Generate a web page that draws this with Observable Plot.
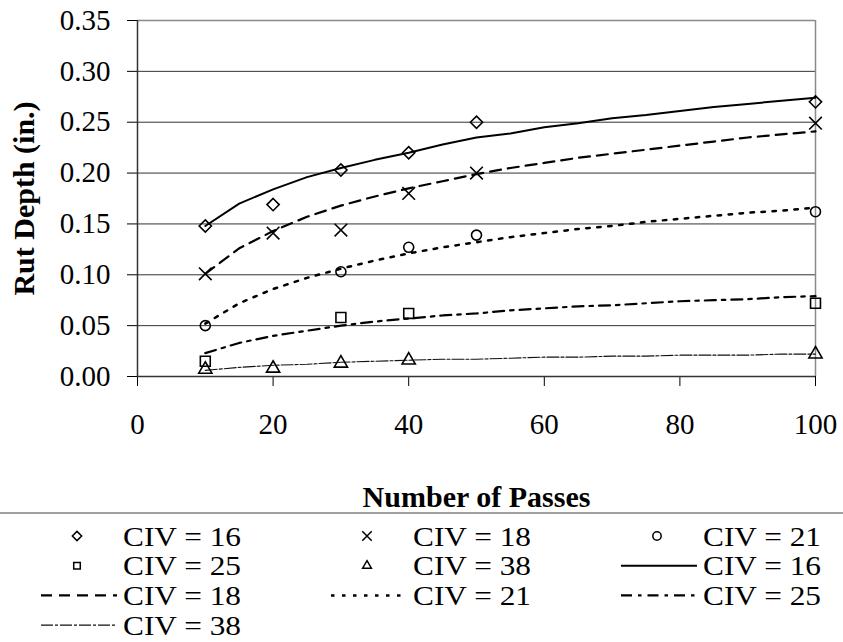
<!DOCTYPE html>
<html><head><meta charset="utf-8">
<script src="https://cdn.jsdelivr.net/npm/d3@7"></script>
<script src="https://cdn.jsdelivr.net/npm/@observablehq/plot@0.6"></script>
<style>
html,body{margin:0;padding:0;background:#fff;}
#chart svg{display:block;}
</style></head><body><div id="chart"></div>
<script>
// ---- data ----
const civLabels = ["CIV = 16", "CIV = 18", "CIV = 21", "CIV = 25", "CIV = 38"];

// measured points
const obsPasses = [10, 20, 30, 40, 50, 100];
const obs16 = [0.148, 0.169, 0.203, 0.220, 0.250, 0.270];
const obs18 = [0.101, 0.141, 0.144, 0.180, 0.200, 0.249];
const obs21 = [0.050, null, 0.103, 0.127, 0.139, 0.162];
const obs25 = [0.015, null, 0.058, 0.062, null, 0.072];
const obs38 = [0.007, 0.008, 0.013, 0.016, null, 0.022];

// trend lines
const fitPasses = [10, 15, 20, 25, 30, 35, 40, 45, 50, 55, 60, 65, 70, 75, 80, 85, 90, 95, 100];
const fit16 = [0.148, 0.170, 0.184, 0.196, 0.205, 0.213, 0.220, 0.228, 0.235, 0.239, 0.245, 0.249, 0.254, 0.257, 0.261, 0.265, 0.268, 0.271, 0.274];
const fit18 = [0.101, 0.126, 0.143, 0.157, 0.168, 0.177, 0.185, 0.192, 0.199, 0.205, 0.210, 0.215, 0.219, 0.223, 0.227, 0.231, 0.235, 0.238, 0.241];
const fit21 = [0.052, 0.072, 0.086, 0.097, 0.106, 0.114, 0.121, 0.127, 0.132, 0.137, 0.141, 0.145, 0.148, 0.152, 0.155, 0.158, 0.161, 0.163, 0.166];
const fit25 = [0.023, 0.033, 0.040, 0.045, 0.050, 0.054, 0.057, 0.060, 0.062, 0.065, 0.067, 0.069, 0.070, 0.072, 0.074, 0.075, 0.076, 0.078, 0.079];
const fit38 = [0.006, 0.009, 0.011, 0.012, 0.014, 0.015, 0.016, 0.017, 0.017, 0.018, 0.019, 0.019, 0.020, 0.020, 0.021, 0.021, 0.021, 0.022, 0.022];

const xTicks = [0, 20, 40, 60, 80, 100];
const yTicks = [0, 0.05, 0.10, 0.15, 0.20, 0.25, 0.30, 0.35];
const xTitle = "Number of Passes";
const yTitle = "Rut Depth (in.)";

// ---- layout ----
const font = '"Liberation Serif","Times New Roman",serif';
const W = 843, H = 505;
const gridTicks = yTicks.filter(v => v > 0 && v < 0.35);

function obsRows(vals) { return obsPasses.map((p, i) => ({passes: p, depth: vals[i]})).filter(d => d.depth != null); }
function fitRows(vals) { return fitPasses.map((p, i) => ({passes: p, depth: vals[i]})); }

const lineStyles = [
  {vals: fit16, dash: null, w: 2, color: "#000"},
  {vals: fit18, dash: "11,7", w: 2.2, color: "#000"},
  {vals: fit21, dash: "3.5,7.5", w: 2.5, color: "#000"},
  {vals: fit25, dash: "11,6,3.5,6", w: 2.2, color: "#000"},
  {vals: fit38, dash: "12,2,3,2", w: 1.1, color: "#111"}
];
const markerStyles = [
  {vals: obs16, symbol: "diamond2", r: 5.5},
  {vals: obs18, symbol: "times", r: 5.8},
  {vals: obs21, symbol: "circle", r: 5},
  {vals: obs25, symbol: "square2", r: 6.3},
  {vals: obs38, symbol: "triangle2", r: 6.3}
];

const chart = Plot.plot({
  width: W, height: H,
  marginLeft: 137, marginRight: 28, marginTop: 20, marginBottom: H - 376,
  style: {fontFamily: font, fontSize: "29px", background: "#fff", color: "#000", overflow: "visible"},
  x: {domain: [0, 100]},
  y: {domain: [0, 0.35]},
  marks: [
    Plot.ruleY(gridTicks, {stroke: "#333", strokeWidth: 1}),
    Plot.ruleY([0.35], {stroke: "#8a8a8a", strokeWidth: 1.5}),
    Plot.ruleX([100], {stroke: "#8a8a8a", strokeWidth: 1.5}),
    Plot.axisY({ticks: yTicks, tickFormat: d3.format(".2f"), tickSize: 10, tickPadding: 17, label: null, fontSize: 29}),
    Plot.axisX({ticks: xTicks, tickSize: 10, tickPadding: 27, label: null, fontSize: 29}),
    Plot.ruleX([0], {stroke: "#333", strokeWidth: 1.5}),
    Plot.ruleY([0], {stroke: "#333", strokeWidth: 1.5}),
    ...lineStyles.map(s => Plot.line(fitRows(s.vals), {
      x: "passes", y: "depth", stroke: s.color, strokeWidth: s.w,
      strokeDasharray: s.dash, curve: "linear"
    })),
    ...markerStyles.map(s => Plot.dot(obsRows(s.vals), {
      x: "passes", y: "depth", symbol: () => s.symbol, r: s.r,
      stroke: "#000", fill: "none", strokeWidth: 1.6
    })),
    Plot.text([xTitle], {text: d => d, frameAnchor: "bottom", textAnchor: "middle", lineAnchor: "middle",
      dy: 121, fontWeight: "bold", fontSize: 30}),
    Plot.text([yTitle], {text: d => d, frameAnchor: "left", textAnchor: "middle", lineAnchor: "middle",
      rotate: -90, dx: -113, fontWeight: "bold", fontSize: 30})
  ]
});
document.getElementById("chart").appendChild(chart);

// ---- legend ----
const symbolMap = {diamond2: d3.symbolDiamond2, times: d3.symbolTimes, circle: d3.symbolCircle, square2: d3.symbolSquare2, triangle2: d3.symbolTriangle2};
const legendEntries = [
  ...markerStyles.map((s, i) => ({kind: "symbol", symbol: s.symbol, label: civLabels[i]})),
  ...lineStyles.map((s, i) => ({kind: "line", style: s, label: civLabels[i]}))
];
const LH = 642 - H;
const leg = d3.create("svg").attr("width", W).attr("height", LH).style("display", "block")
  .style("font-family", font);
leg.append("line").attr("x1", 0).attr("x2", W).attr("y1", 8).attr("y2", 8)
  .attr("stroke", "#808080").attr("stroke-width", 1.6);
const colX = [123, 413, 703];
legendEntries.forEach((e, i) => {
  const col = i % 3, row = Math.floor(i / 3);
  const tx = colX[col], cy = 31 + 29.7 * row;
  const g = leg.append("g");
  if (e.kind === "symbol") {
    g.append("path").attr("transform", `translate(${tx - 46},${cy})`)
      .attr("d", d3.symbol(symbolMap[e.symbol], e.symbol === "times" ? 60 : 55)())
      .attr("fill", "none").attr("stroke", "#000").attr("stroke-width", 1.5);
  } else {
    g.append("line").attr("x1", tx - 82).attr("x2", tx - 6).attr("y1", cy).attr("y2", cy)
      .attr("stroke", e.style.color).attr("stroke-width", e.style.w)
      .attr("stroke-dasharray", e.style.dash);
  }
  g.append("text").attr("x", tx).attr("y", cy).attr("dy", "0.36em")
    .attr("font-size", 26.5).attr("fill", "#000")
    .attr("textLength", 118).attr("lengthAdjust", "spacingAndGlyphs")
    .text(e.label);
});
document.getElementById("chart").appendChild(leg.node());
</script>
</body></html>
